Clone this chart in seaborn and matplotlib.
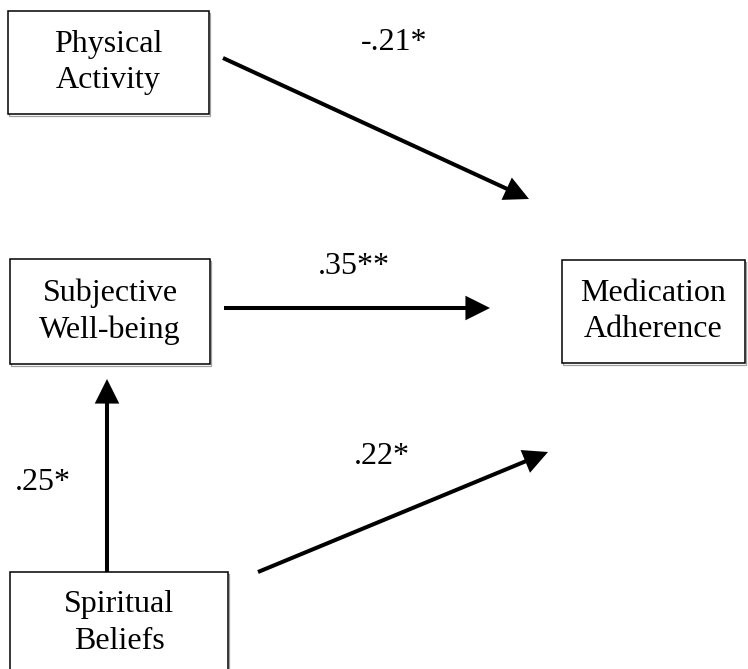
import matplotlib
matplotlib.use("Agg")
import matplotlib.pyplot as plt
import seaborn as sns
from matplotlib.patches import Rectangle, FancyArrowPatch

# --- DATA ---
node_names = ["Physical\nActivity", "Subjective\nWell-being", "Medication\nAdherence", "Spiritual\nBeliefs"]
path_from = [0, 1, 3, 3]
path_to = [2, 2, 1, 2]
path_labels = ["-.21*", ".35**", ".25*", ".22*"]

# --- LAYOUT (pixels, y down) ---
box_xy = [(8, 11, 201, 103), (10, 259, 200, 105), (562, 260, 183, 103), (10, 572, 218, 130)]
arrow_pts = [((223, 58), (529, 199)), ((224, 308), (490, 308)),
             ((107, 572), (107, 379)), ((258, 572), (548, 452))]
label_pts = [(394, 43), (354, 266), (43, 483), (382, 456)]

sns.set_style("white")
plt.rcParams['font.family'] = ['Liberation Serif', 'DejaVu Serif']
plt.rcParams['text.color'] = 'black'

fig = plt.figure(figsize=(7.48, 6.69), dpi=100)
ax = fig.add_axes([0, 0, 1, 1])
ax.set_xlim(0, 748)
ax.set_ylim(669, 0)
ax.axis("off")

FS = 23

# boxes with a faint shadow
for name, (x, y, w, h) in zip(node_names, box_xy):
    ax.add_patch(Rectangle((x + 1.5, y + 1.5), w, h, fill=False, edgecolor="#a0a0a0", lw=0.9))
    ax.add_patch(Rectangle((x, y), w, h, facecolor="white", edgecolor="black", lw=1.1))
    cy = y + 51 if h > 110 else y + h / 2
    ax.text(x + w / 2, cy, name, ha="center", va="center", fontsize=FS,
            linespacing=1.33, color="black")

# paths
for (p0, p1), lab, lp in zip(arrow_pts, path_labels, label_pts):
    ax.add_patch(FancyArrowPatch(p0, p1, arrowstyle="-|>,head_length=13,head_width=6.5",
                                 mutation_scale=1, lw=2.9, color="black",
                                 shrinkA=0, shrinkB=0, joinstyle="miter", capstyle="butt"))
    ax.text(lp[0], lp[1], lab, ha="center", va="center", fontsize=FS, color="black")

fig.savefig("out.png", dpi=100)
